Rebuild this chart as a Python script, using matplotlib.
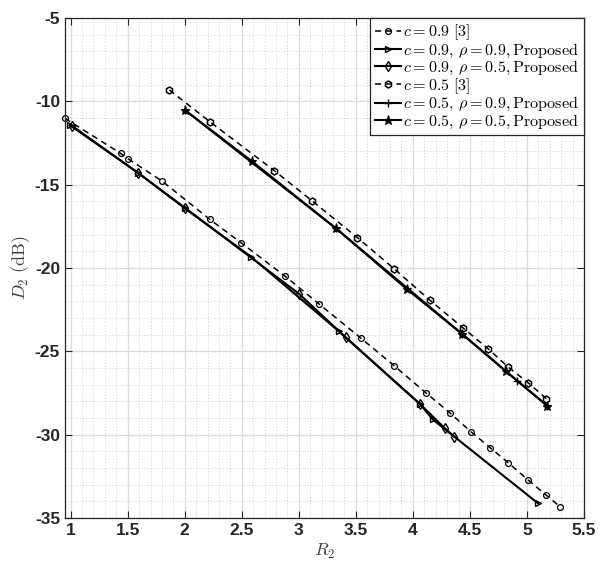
import matplotlib
matplotlib.use("Agg")
import matplotlib.pyplot as plt
from matplotlib.ticker import MultipleLocator

plt.rcParams['mathtext.fontset'] = 'cm'

# c = 0.9 [3]
x_c09_ref = [0.95, 1.437, 1.505, 1.80, 2.219, 2.496, 2.881, 3.181, 3.546, 3.835, 4.112,
             4.322, 4.508, 4.677, 4.838, 5.007, 5.167, 5.293]
y_c09_ref = [-11.02, -13.12, -13.46, -14.78, -17.08, -18.50, -20.50, -22.18, -24.22, -25.86,
             -27.48, -28.68, -29.82, -30.78, -31.70, -32.70, -33.62, -34.34]
# c = 0.9, rho = 0.9, proposed
x_c09_r09 = [0.99, 1.59, 2.0, 2.58, 3.348, 4.062, 4.173, 5.097]
y_c09_r09 = [-11.42, -14.28, -16.42, -19.32, -23.78, -28.16, -29.08, -34.12]
# c = 0.9, rho = 0.5, proposed
x_c09_r05 = [1.01, 1.59, 2.0, 3.0, 3.41, 4.062, 4.28, 4.362]
y_c09_r05 = [-11.46, -14.30, -16.38, -21.54, -24.16, -28.16, -29.62, -30.12]
# c = 0.5 [3]
x_c05_ref = [1.865, 2.219, 2.785, 3.114, 3.514, 3.838, 4.147, 4.437, 4.662, 4.838, 5.013, 5.17]
y_c05_ref = [-9.32, -11.22, -14.16, -15.96, -18.18, -20.06, -21.92, -23.58, -24.86, -25.96,
             -26.90, -27.84]
# c = 0.5, rho = 0.9, proposed
x_c05_r09 = [2.0, 3.325, 4.435, 4.914, 5.18]
y_c05_r09 = [-10.52, -17.62, -23.98, -26.76, -28.28]
# c = 0.5, rho = 0.5, proposed
x_c05_r05 = [2.0, 2.59, 3.325, 3.945, 4.435, 4.815, 5.18]
y_c05_r05 = [-10.52, -13.60, -17.62, -21.26, -23.98, -26.20, -28.28]

labels = [r'$c = 0.9\ \mathrm{[3]}$',
          r'$c = 0.9,\, \rho = 0.9,\mathrm{Proposed}$',
          r'$c = 0.9,\, \rho = 0.5,\mathrm{Proposed}$',
          r'$c = 0.5\ \mathrm{[3]}$',
          r'$c = 0.5,\, \rho = 0.9,\mathrm{Proposed}$',
          r'$c = 0.5,\, \rho = 0.5,\mathrm{Proposed}$']

fig = plt.figure(figsize=(6.0, 5.65), dpi=100)
ax = fig.add_axes([0.1083, 0.0832, 0.865, 0.885])

ax.plot(x_c09_ref, y_c09_ref, '--', color='k', lw=1.1, marker='o', ms=4.2,
        mfc='none', mec='k', mew=0.9, label=labels[0], clip_on=False, dashes=(4, 3))
ax.plot(x_c09_r09, y_c09_r09, '-', color='k', lw=1.5, marker='>', ms=5,
        mfc='none', mec='k', mew=1.0, label=labels[1])
ax.plot(x_c09_r05, y_c09_r05, '-', color='k', lw=1.5, marker='d', ms=5,
        mfc='none', mec='k', mew=1.0, label=labels[2])
ax.plot(x_c05_ref, y_c05_ref, '--', color='k', lw=1.1, marker='h', ms=5,
        mfc='none', mec='k', mew=1.1, label=labels[3], dashes=(4, 3))
ax.plot(x_c05_r09, y_c05_r09, '-', color='k', lw=1.5, marker='+', ms=6,
        mec='k', mew=1.0, label=labels[4])
ax.plot(x_c05_r05, y_c05_r05, '-', color='k', lw=1.5, marker='*', ms=6.5,
        mfc='k', mec='k', mew=0.8, label=labels[5])

ax.set_xlim(0.95, 5.5)
ax.set_ylim(-35, -5)
ax.xaxis.set_minor_locator(MultipleLocator(0.1))
ax.yaxis.set_minor_locator(MultipleLocator(1))
ax.set_xticks([1, 1.5, 2, 2.5, 3, 3.5, 4, 4.5, 5, 5.5])
ax.set_xticklabels(['1', '1.5', '2', '2.5', '3', '3.5', '4', '4.5', '5', '5.5'])
ax.set_yticks([-5, -10, -15, -20, -25, -30, -35])
ax.set_yticklabels(['-5', '-10', '-15', '-20', '-25', '-30', '-35'])

ax.grid(which='major', color='#dcdcdc', lw=0.9, ls='-')
ax.grid(which='minor', color='#d0d0d0', lw=0.7, ls=(0, (1, 2)))
ax.set_axisbelow(True)

ax.tick_params(which='both', direction='in', top=True, right=True, color='#262626')
ax.tick_params(which='major', length=5, width=0.8)
ax.tick_params(which='minor', length=0)
for lab in ax.get_xticklabels() + ax.get_yticklabels():
    lab.set_fontfamily('Liberation Sans')
    lab.set_fontweight('bold')
    lab.set_fontsize(12.5)
    lab.set_color('#262626')
for sp in ax.spines.values():
    sp.set_color('#262626')
    sp.set_linewidth(0.9)

ax.set_xlabel(r'$R_2$', fontsize=13, color='#404040', labelpad=3)
ax.set_ylabel(r'$D_2\ \mathrm{(dB)}$', fontsize=13, color='#404040', labelpad=2)

leg = ax.legend(loc='upper right', fontsize=11.6, frameon=True, fancybox=False,
                edgecolor='#262626', framealpha=1, borderaxespad=0.0,
                handlelength=1.6, handletextpad=0.15, labelspacing=-0.05,
                borderpad=0.3)
leg.get_frame().set_linewidth(0.9)

fig.savefig('out.png', dpi=100)
